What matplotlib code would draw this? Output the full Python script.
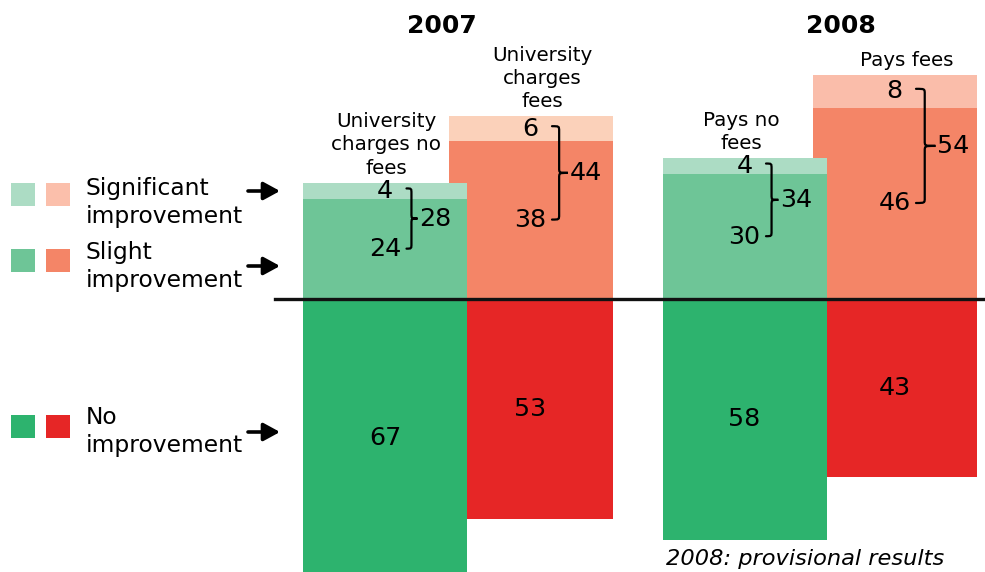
import matplotlib
matplotlib.use('Agg')
import matplotlib.pyplot as plt
from matplotlib.path import Path
from matplotlib.patches import PathPatch, Rectangle

# ---------------- data ----------------
years = ['2007', '2008']
categories = ['University\ncharges no\nfees', 'University\ncharges\nfees',
              'Pays no\nfees', 'Pays fees']
significant = [4, 6, 4, 8]
slight = [24, 38, 30, 46]
no_improvement = [67, 53, 58, 43]
legend_labels = ['Significant\nimprovement', 'Slight\nimprovement', 'No\nimprovement']
footnote = '2008: provisional results'

# ---------------- styles ----------------
col_sig = ['#acdcc4', '#fbd1ba', '#acdcc4', '#fabdaa']
col_slight = ['#6ec597', '#f48567', '#6ec597', '#f48567']
col_no = ['#2db36e', '#e62626', '#2db36e', '#e62626']
leg_green = ['#acdcc4', '#6ec597', '#2db36e']
leg_red = ['#fbbfab', '#f48567', '#e62626']

W, H = 985, 572
FONT = 'DejaVu Sans'
plt.rcParams['font.family'] = [FONT]

fig = plt.figure(figsize=(W / 100, H / 100), dpi=100)
ax = fig.add_axes([0, 0, 1, 1])
ax.set_xlim(0, W)
ax.set_ylim(-65.8, 72.0)
ax.axis('off')
ppu = H / (72.0 + 65.8)   # pixels per data unit (vertical)

# layout
centers = [385, 530.5, 744.5, 894.5]
bar_w = 164
zord = [3, 2, 3, 2]
label_dx = [1, 12, -3, 12]


def fx(px):
    return px / W


def fy(py):
    return 1 - py / H


def brace(x0, ytop, ybot, w):
    r = 5 / ppu
    ymid = (ytop + ybot) / 2
    xv = x0 + 0.45 * w
    xt = x0 + w
    verts = [(x0, ytop), (xv, ytop), (xv, ytop), (xv, ytop - r),
             (xv, ymid + r),
             (xv, ymid), (xv, ymid), (xt, ymid),
             (xv, ymid), (xv, ymid), (xv, ymid - r),
             (xv, ybot + r),
             (xv, ybot), (xv, ybot), (x0, ybot)]
    codes = [Path.MOVETO] + [Path.CURVE4] * 3 + [Path.LINETO] + [Path.CURVE4] * 6 + \
            [Path.LINETO] + [Path.CURVE4] * 3
    ax.add_patch(PathPatch(Path(verts, codes), fill=False, lw=1.6,
                           edgecolor='black', zorder=6, capstyle='round'))
    return ymid, xt


for i, xc in enumerate(centers):
    z = zord[i]
    ax.bar(xc, slight[i], bar_w, bottom=0, color=col_slight[i], zorder=z, linewidth=0)
    ax.bar(xc, significant[i], bar_w, bottom=slight[i], color=col_sig[i], zorder=z, linewidth=0)
    ax.bar(xc, -no_improvement[i], bar_w, bottom=0, color=col_no[i], zorder=z, linewidth=0)
    total = slight[i] + significant[i]
    y_sig = total - significant[i] / 2
    y_sl = slight[i] / 2
    ax.text(xc, y_sig, str(significant[i]), ha='center', va='center', fontsize=18.3, zorder=7)
    ax.text(xc, y_sl, str(slight[i]), ha='center', va='center', fontsize=18.3, zorder=7)
    ax.text(xc, -no_improvement[i] / 2, str(no_improvement[i]), ha='center', va='center',
            fontsize=18.3, zorder=7)
    ytop = y_sig + 0.6
    ybot = y_sl + 0.1
    hpx = (ytop - ybot) * ppu
    w = max(11, 0.17 * hpx)
    ymid, xt = brace(xc + 21.5, ytop, ybot, w)
    ax.text(xt + 2, ymid, str(total), ha='left', va='center', fontsize=18.3, zorder=7)
    ax.annotate(categories[i], xy=(xc + label_dx[i], total), xytext=(0, 3.6),
                textcoords='offset points', ha='center', va='bottom', fontsize=14.3,
                linespacing=1.28, zorder=7)

ax.axhline(0, xmin=275 / W, xmax=1, color='#111111', lw=2.4, zorder=8)

# year titles
title_x = [441.7, 841]
for t, x in zip(years, title_x):
    fig.text(fx(x), fy(33), t, ha='center', va='baseline', fontsize=18, fontweight='bold')

# legend
sq_y = [183, 249, 415]
txt_last_base = [223, 287, 451.7]
arrow_y = [191, 266, 432]
for k in range(3):
    for x0, c in ((11, leg_green[k]), (46, leg_red[k])):
        fig.add_artist(Rectangle((fx(x0), fy(sq_y[k] + 23)), 24 / W, 23 / H,
                                 transform=fig.transFigure, color=c, lw=0))
    fig.text(fx(85.5), fy(txt_last_base[k]), legend_labels[k], ha='left', va='baseline',
             fontsize=16.8, linespacing=1.25)
    ax.annotate('', xy=(280, H - arrow_y[k]), xytext=(248, H - arrow_y[k]),
                xycoords='figure pixels', textcoords='figure pixels',
                arrowprops=dict(arrowstyle='-|>,head_length=0.55,head_width=0.3',
                                mutation_scale=18, lw=2.6, color='black',
                                shrinkA=0, shrinkB=0))

fig.text(fx(666), fy(565), footnote, ha='left', va='baseline', fontsize=16.2, style='italic')

fig.savefig('out.png', dpi=100)
